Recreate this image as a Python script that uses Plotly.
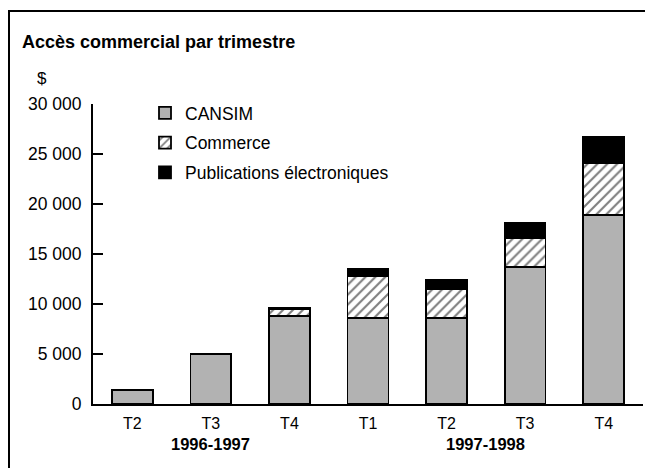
import plotly.graph_objects as go

quarters = ["T2", "T3", "T4", "T1", "T2", "T3", "T4"]
years = ["1996-1997", "1996-1997", "1996-1997", "1997-1998", "1997-1998", "1997-1998", "1997-1998"]
cansim = [1400, 5000, 8800, 8600, 8600, 13700, 18900]
commerce = [0, 0, 700, 4200, 2900, 2900, 5200]
publications = [0, 0, 100, 700, 900, 1500, 2600]
y_ticks = [0, 5000, 10000, 15000, 20000, 25000, 30000]
y_tick_labels = ["0", "5 000", "10 000", "15 000", "20 000", "25 000", "30 000"]

# the page body adds an 8px margin; lay out in window pixels and shift
OFF = 8
W, H = 653 - OFF, 468 - OFF
L, R, T, B = 93 - OFF, 10, 104 - OFF, 64
pw, ph = W - L - R, H - T - B

def px_x(px):
    return (px - OFF - L) / pw

def px_y(py):
    return (H - B - (py - OFF)) / ph

xs = list(range(len(quarters)))
FONT = "Liberation Sans, Arial, sans-serif"
line = dict(color="black", width=1.8)

fig = go.Figure()
fig.add_trace(go.Bar(x=xs, y=cansim, name="CANSIM", legendgroup="a",
                     marker=dict(color="#b2b2b2", line=line)))
fig.add_trace(go.Bar(x=xs, y=commerce, name="Commerce", legendgroup="b",
                     marker=dict(color="white", line=line,
                                 pattern=dict(shape="/", fgcolor="black", bgcolor="white",
                                              size=7, solidity=0.3))))
fig.add_trace(go.Bar(x=xs, y=publications, name="Publications électroniques", legendgroup="c",
                     marker=dict(color="black", line=line)))

# year group labels centred under their quarters
for yr in dict.fromkeys(years):
    idx = [i for i, v in enumerate(years) if v == yr]
    fig.add_annotation(x=sum(idx) / len(idx), y=px_y(444), xref="x", yref="paper",
                       text=f"<b>{yr}</b>", showarrow=False,
                       font=dict(size=16.5, color="black", family=FONT), yanchor="middle")

fig.add_annotation(x=px_x(42), y=px_y(78), xref="paper", yref="paper", text="$",
                   showarrow=False, font=dict(size=17, color="black", family=FONT),
                   xanchor="center", yanchor="middle")

# outer frame
fig.add_shape(type="path", xref="paper", yref="paper",
              path=f"M {px_x(9)} {px_y(480)} L {px_x(9)} {px_y(11)} L {px_x(652)} {px_y(11)} L {px_x(652)} {px_y(480)}",
              line=dict(color="black", width=2))

fig.update_layout(
    width=W, height=H,
    margin=dict(l=L, r=R, t=T, b=B, pad=0),
    paper_bgcolor="white", plot_bgcolor="white",
    barmode="stack", bargap=0.48,
    font=dict(family=FONT, color="black", size=17),
    title=dict(text="<b>Accès commercial par trimestre</b>", x=(22 - OFF) / W, xanchor="left",
               y=1 - (42 - OFF) / H, yanchor="middle", xref="container", yref="container",
               font=dict(size=18, family=FONT, color="black")),
    showlegend=True,
    legend=dict(x=px_x(145), y=px_y(95), xanchor="left", yanchor="top",
                traceorder="grouped", tracegroupgap=4, bgcolor="rgba(0,0,0,0)",
                font=dict(size=17.5, family=FONT, color="black")),
    xaxis=dict(tickmode="array", tickvals=xs, ticktext=quarters, range=[-0.5, len(xs) - 0.5],
               showline=True, linecolor="black", linewidth=2, ticks="", showgrid=False,
               zeroline=False, tickfont=dict(size=16), ticklabelstandoff=4),
    yaxis=dict(range=[0, 30000], tickmode="array", tickvals=y_ticks, ticktext=y_tick_labels,
               showline=True, linecolor="black", linewidth=2, ticks="inside", ticklen=10,
               tickwidth=2, tickcolor="black", showgrid=False, zeroline=False,
               tickfont=dict(size=17.5), ticklabelstandoff=6),
)

fig.write_html("out.html")
